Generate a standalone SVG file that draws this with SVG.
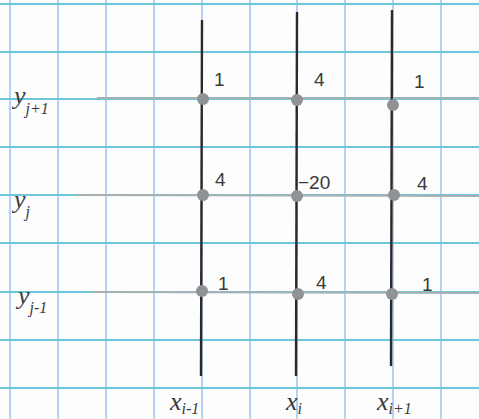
<svg xmlns="http://www.w3.org/2000/svg" width="479" height="419" viewBox="0 0 479 419">
<style>
.gv{stroke:#9ec3ee;stroke-width:1.5}
.gh{stroke:#6cc6dc;stroke-width:1.8}
.axis{stroke:#2a2a2a;stroke-width:2.4}
.row{stroke:#a9b0b2;stroke-width:2.2}
.dot{fill:#8f9396}
.w{font-family:"Liberation Sans",Arial,sans-serif;font-size:19px;fill:#3a3a3a}
.lab{font-family:"Liberation Serif","Times New Roman",serif;font-style:italic;font-size:26px;fill:#3a3a3a}
.sub{font-size:16px}
</style>
<rect width="479" height="419" fill="#fdfdfd"/>
<g id="grid">
<line class="gv" x1="10" y1="0" x2="10" y2="419"/>
<line class="gv" x1="58" y1="0" x2="58" y2="419"/>
<line class="gv" x1="106" y1="0" x2="106" y2="419"/>
<line class="gv" x1="154" y1="0" x2="154" y2="419"/>
<line class="gv" x1="202" y1="0" x2="202" y2="419"/>
<line class="gv" x1="250" y1="0" x2="250" y2="419"/>
<line class="gv" x1="297" y1="0" x2="297" y2="419"/>
<line class="gv" x1="345" y1="0" x2="345" y2="419"/>
<line class="gv" x1="393" y1="0" x2="393" y2="419"/>
<line class="gv" x1="441" y1="0" x2="441" y2="419"/>
<line class="gh" x1="0" y1="4" x2="479" y2="4"/>
<line class="gh" x1="0" y1="52" x2="479" y2="52"/>
<line class="gh" x1="0" y1="99" x2="479" y2="99"/>
<line class="gh" x1="0" y1="147" x2="479" y2="147"/>
<line class="gh" x1="0" y1="195" x2="479" y2="195"/>
<line class="gh" x1="0" y1="243" x2="479" y2="243"/>
<line class="gh" x1="0" y1="292" x2="479" y2="292"/>
<line class="gh" x1="0" y1="340" x2="479" y2="340"/>
<line class="gh" x1="0" y1="388" x2="479" y2="388"/>
</g>
<g id="connectors">
<line class="row" x1="97" y1="98" x2="479" y2="98"/>
<line class="row" x1="75" y1="195" x2="479" y2="196"/>
<line class="row" x1="92" y1="292" x2="479" y2="293"/>
<line class="axis" x1="202" y1="20" x2="201" y2="376"/>
<line class="axis" x1="297" y1="12" x2="296" y2="376"/>
<line class="axis" x1="392" y1="10" x2="391" y2="366"/>
</g>
<g id="n-x0-y2"><circle class="dot" cx="203" cy="99" r="6"/><text class="w" x="214" y="86">1</text></g>
<g id="n-x1-y2"><circle class="dot" cx="297" cy="100" r="6"/><text class="w" x="314" y="86">4</text></g>
<g id="n-x2-y2"><circle class="dot" cx="393" cy="105" r="6"/><text class="w" x="414" y="88">1</text></g>
<g id="n-x0-y1"><circle class="dot" cx="203" cy="195" r="6"/><text class="w" x="215" y="186">4</text></g>
<g id="n-x1-y1"><circle class="dot" cx="297" cy="196" r="6"/><text class="w" x="298" y="189">−20</text></g>
<g id="n-x2-y1"><circle class="dot" cx="394" cy="195" r="6"/><text class="w" x="417" y="190">4</text></g>
<g id="n-x0-y0"><circle class="dot" cx="202" cy="291" r="6"/><text class="w" x="218" y="290">1</text></g>
<g id="n-x1-y0"><circle class="dot" cx="298" cy="294" r="6"/><text class="w" x="316" y="289">4</text></g>
<g id="n-x2-y0"><circle class="dot" cx="392" cy="294" r="6"/><text class="w" x="422" y="291">1</text></g>
<g id="labels">
<text class="lab" x="14" y="104">y<tspan class="sub" dy="10">j+1</tspan></text>
<text class="lab" x="14" y="208">y<tspan class="sub" dy="9">j</tspan></text>
<text class="lab" x="18" y="304">y<tspan class="sub" dy="9">j-1</tspan></text>
<text class="lab" x="170" y="410">x<tspan class="sub" dy="4">i-1</tspan></text>
<text class="lab" x="286" y="410">x<tspan class="sub" dy="4">i</tspan></text>
<text class="lab" x="377" y="410">x<tspan class="sub" dy="4">i+1</tspan></text>
</g>
</svg>
